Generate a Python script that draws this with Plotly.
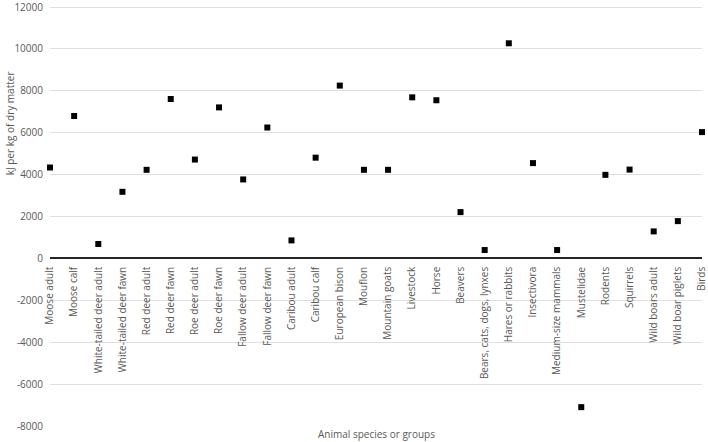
import plotly.graph_objects as go

categories = [
    "Moose adult", "Moose calf", "White-tailed deer adult", "White-tailed deer fawn",
    "Red deer adult", "Red deer fawn", "Roe deer adult", "Roe deer fawn",
    "Fallow deer adult", "Fallow deer fawn", "Caribou adult", "Caribou calf",
    "European bison", "Mouflon", "Mountain goats", "Livestock", "Horse", "Beavers",
    "Bears, cats, dogs, lynxes", "Hares or rabbits", "Insectivora",
    "Medium-size mammals", "Mustelidae", "Rodents", "Squirrels",
    "Wild boars adult", "Wild boar piglets", "Birds",
]
values = [
    4340, 6800, 690, 3180,
    4230, 7610, 4720, 7210,
    3770, 6250, 860, 4810,
    8250, 4230, 4230, 7690, 7550, 2210,
    400, 10270, 4550,
    400, -7100, 3990, 4240,
    1290, 1780, 6030,
]
y_ticks = [-8000, -6000, -4000, -2000, 0, 2000, 4000, 6000, 8000, 10000, 12000]
y_tick_labels = [str(v) for v in y_ticks]

FONT = "Open Sans"
GREY = "#595959"

fig = go.Figure()
fig.add_trace(go.Scatter(
    x=categories, y=values, mode="markers",
    marker=dict(symbol="square", size=6, color="black"),
    cliponaxis=False, showlegend=False,
))

fig.update_layout(
    width=708, height=442,
    margin=dict(l=50, r=6, t=6, b=16, autoexpand=False),
    paper_bgcolor="white", plot_bgcolor="white",
    font=dict(family=FONT, size=10, color=GREY),
    xaxis=dict(
        type="category",
        range=[0, len(categories) - 1],
        anchor="free", position=0.4,
        showline=True, linecolor="#262626", linewidth=1.5,
        showgrid=False, zeroline=False,
        tickangle=-90, ticks="", ticklabelstandoff=4,
        tickfont=dict(family=FONT, size=10, color=GREY),
        automargin=False, ticklabeloverflow="allow",
    ),
    yaxis=dict(
        range=[-8000, 12050], tickvals=y_ticks, ticktext=y_tick_labels,
        showgrid=True, gridcolor="#e0e0e0", gridwidth=1,
        zeroline=False, showline=False, ticks="",
        ticklabelstandoff=6,
        tickfont=dict(family=FONT, size=10, color=GREY),
        automargin=False, ticklabeloverflow="allow",
    ),
    annotations=[
        dict(text="kJ per kg of dry matter", xref="paper", yref="paper",
             x=-0.062, y=0.72, xanchor="center", yanchor="middle",
             textangle=-90, showarrow=False, font=dict(size=10, color=GREY)),
        dict(text="Animal species or groups", xref="paper", yref="paper",
             x=0.5, y=-0.019, xanchor="center", yanchor="middle",
             showarrow=False, font=dict(size=10, color=GREY)),
    ],
)

fig.write_html(
    "out.html",
    config={"displayModeBar": False},
    post_script="document.body.style.margin='0px';document.body.style.overflow='hidden';",
)
